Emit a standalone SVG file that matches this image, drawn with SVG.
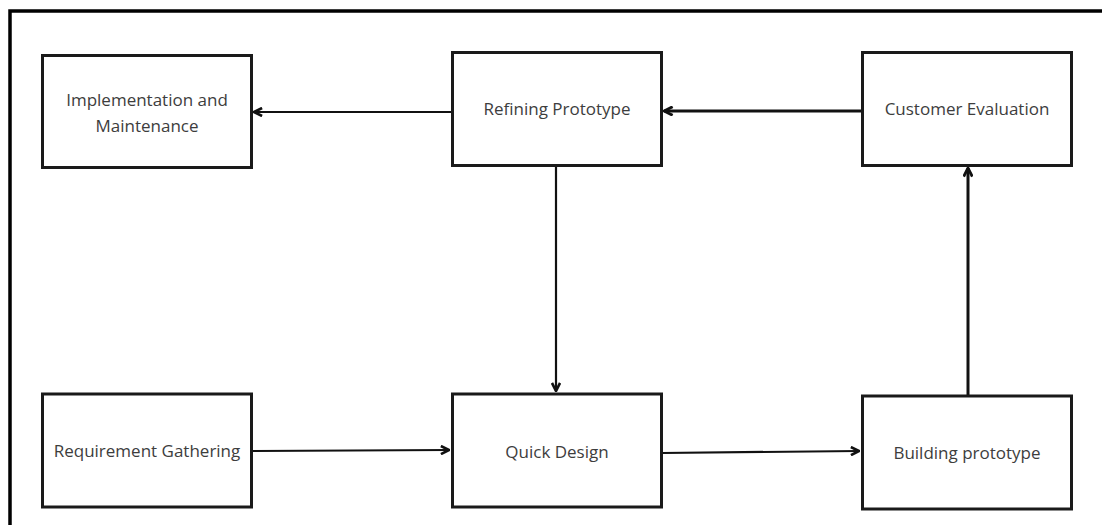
<svg xmlns="http://www.w3.org/2000/svg" width="1102" height="525" viewBox="0 0 1102 525">
  <style>
    .box { fill: #ffffff; stroke: #1a1a1a; stroke-width: 3; }
    .label { font-family: "Open Sans", "Noto Sans", sans-serif; font-size: 17px; fill: #3d3d3d; text-anchor: middle; dominant-baseline: central; }
    .wire { fill: none; stroke: #111111; stroke-width: 2.2; }
    .wire-bold { fill: none; stroke: #111111; stroke-width: 3; }
  </style>
  <defs>
    <marker id="head" viewBox="0 0 10 10" refX="9" refY="5" markerWidth="4.6" markerHeight="4.6" orient="auto" markerUnits="strokeWidth">
      <path d="M1,1 L9,5 L1,9" fill="none" stroke="#111111" stroke-width="2.6" stroke-linejoin="miter"/>
    </marker>
    <marker id="head-bold" viewBox="0 0 10 10" refX="9" refY="5" markerWidth="3.6" markerHeight="3.6" orient="auto" markerUnits="strokeWidth">
      <path d="M1,1 L9,5 L1,9" fill="none" stroke="#111111" stroke-width="2.6" stroke-linejoin="miter"/>
    </marker>
  </defs>

  <rect width="1102" height="525" fill="#ffffff"/>

  <!-- outer frame: left and top edges -->
  <path d="M10,525 V11 H1102" fill="none" stroke="#000000" stroke-width="3.5"/>

  <g id="connectors">
    <line class="wire" x1="451" y1="112" x2="254" y2="112" marker-end="url(#head)"/>
    <line class="wire-bold" x1="861" y1="111" x2="664" y2="111" marker-end="url(#head-bold)"/>
    <line class="wire" x1="556" y1="166" x2="556" y2="391" marker-end="url(#head)"/>
    <line class="wire" x1="252" y1="451" x2="449" y2="450" marker-end="url(#head)"/>
    <line class="wire" x1="662" y1="453" x2="859" y2="451" marker-end="url(#head)"/>
    <line class="wire-bold" x1="968" y1="395" x2="968" y2="168" marker-end="url(#head-bold)"/>
  </g>

  <g id="implementation">
    <rect class="box" x="42.5" y="55.5" width="209" height="112"/>
    <text class="label" x="147" y="99">Implementation and</text>
    <text class="label" x="147" y="125">Maintenance</text>
  </g>

  <g id="refining">
    <rect class="box" x="452.5" y="52.5" width="209" height="113"/>
    <text class="label" x="557" y="108">Refining Prototype</text>
  </g>

  <g id="customer">
    <rect class="box" x="862.5" y="52.5" width="209" height="113"/>
    <text class="label" x="967" y="108">Customer Evaluation</text>
  </g>

  <g id="requirement">
    <rect class="box" x="42.5" y="394" width="209" height="113"/>
    <text class="label" x="147" y="450">Requirement Gathering</text>
  </g>

  <g id="quick-design">
    <rect class="box" x="452.5" y="394" width="209" height="113"/>
    <text class="label" x="557" y="451">Quick Design</text>
  </g>

  <g id="building">
    <rect class="box" x="862.5" y="396" width="209" height="113"/>
    <text class="label" x="967" y="452">Building prototype</text>
  </g>
</svg>
